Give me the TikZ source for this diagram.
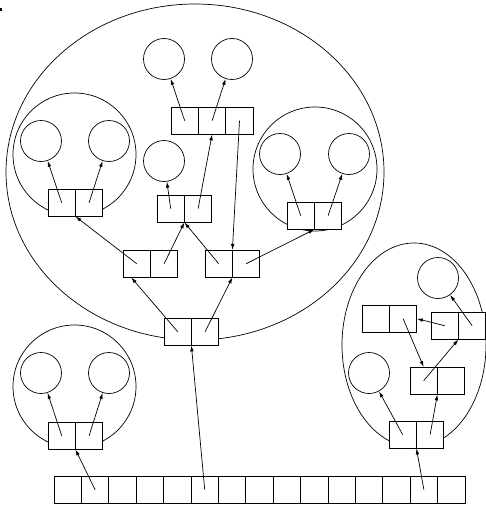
\documentclass[tikz,border=0pt]{standalone}
\usetikzlibrary{positioning,arrows.meta}

\begin{document}
\begin{tikzpicture}[x=1pt, y=-1pt, line width=0.7pt,
    cell/.style={draw, fill=white, minimum size=27.4pt, inner sep=0pt, outer sep=0pt},
    obj/.style={draw, circle, minimum size=41pt, inner sep=0pt},
    ref/.style={-{Latex[length=6pt,width=3.6pt]}}]

  \useasboundingbox (0,0) rectangle (486,506);
  \fill (0,8) rectangle (2,11);

  % Groups
  \draw (195,172) ellipse [x radius=189pt, y radius=168pt];
  \draw (74.5,154.5) circle (61.5pt);
  \draw (315,169) circle (62pt);
  \draw (74.5,386.5) circle (61.5pt);
  \draw (414,345) ellipse [x radius=72pt, y radius=102pt];

  % Objects
  \node[obj] (tc1) at (164,59) {};
  \node[obj] (tc2) at (232,59) {};
  \node[obj] (sc)  at (164,161) {};
  \node[obj] (lc1) at (41,141) {};
  \node[obj] (lc2) at (109,141) {};
  \node[obj] (rc1) at (280,154) {};
  \node[obj] (rc2) at (349,154) {};
  \node[obj] (blc1) at (41,373) {};
  \node[obj] (blc2) at (109,373) {};
  \node[obj] (bc) at (438,278) {};
  \node[obj] (dc) at (369,373) {};

  % Cells
  \node[cell] (t1) at (184.7,120.7) {};
  \node[cell, right=0pt of t1] (t2) {};
  \node[cell, right=0pt of t2] (t3) {};

  \node[cell] (mb1) at (170.7,208.7) {};
  \node[cell, right=0pt of mb1] (mb2) {};

  \node[cell] (l1) at (61.7,202.7) {};
  \node[cell, right=0pt of l1] (l2) {};

  \node[cell] (r1) at (300.7,215.7) {};
  \node[cell, right=0pt of r1] (r2) {};

  \node[cell] (ml1) at (136.7,263.7) {};
  \node[cell, right=0pt of ml1] (ml2) {};

  \node[cell] (mr1) at (218.7,263.7) {};
  \node[cell, right=0pt of mr1] (mr2) {};

  \node[cell] (root1) at (177.7,331.7) {};
  \node[cell, right=0pt of root1] (root2) {};

  \node[cell] (bl1) at (61.7,435.7) {};
  \node[cell, right=0pt of bl1] (bl2) {};

  \node[cell] (ra1) at (375.7,318.7) {};
  \node[cell, right=0pt of ra1] (ra2) {};

  \node[cell] (b1) at (444.7,325.7) {};
  \node[cell, right=0pt of b1] (b2) {};

  \node[cell] (c1) at (423.7,380.7) {};
  \node[cell, right=0pt of c1] (c2) {};

  \node[cell] (d1) at (402.7,434.7) {};
  \node[cell, right=0pt of d1] (d2) {};

  \foreach \i in {0,...,14}
    \node[cell] (a\i) at ({67.7+27.4*\i},489.7) {};

  % References
  \draw[ref] (t1.center) -- (tc1);
  \draw[ref] (t2.center) -- (tc2);
  \draw[ref] (t3.center) -- (mr1.north east);
  \draw[ref] (mb1.center) -- (sc);
  \draw[ref] (mb2.center) -- (t2.south);
  \draw[ref] (l1.center) -- (lc1);
  \draw[ref] (l2.center) -- (lc2);
  \draw[ref] (r1.center) -- (rc1);
  \draw[ref] (r2.center) -- (rc2);
  \draw[ref] (ml1.center) -- (l1.south east);
  \draw[ref] (ml2.center) -- (mb1.south east);
  \draw[ref] (mr1.center) -- (mb1.south east);
  \draw[ref] (mr2.center) -- (r1.south east);
  \draw[ref] (root1.center) -- (ml1.248);
  \draw[ref] (root2.center) -- (mr1.south east);
  \draw[ref] (bl1.center) -- (blc1);
  \draw[ref] (bl2.center) -- (blc2);
  \draw[ref] (a1.center) -- (bl1.south east);
  \draw[ref] (a5.center) -- (root1.south east);
  \draw[ref] (a13.center) -- (d1.south east);
  \draw[ref] (d1.center) -- (dc);
  \draw[ref] (d2.center) -- (c1.south east);
  \draw[ref] (c1.center) -- (b1.south east);
  \draw[ref] (b1.center) -- (ra2.east);
  \draw[ref] (b2.center) -- (bc);
  \draw[ref] (ra2.center) -- (c1.north);

\end{tikzpicture}
\end{document}
